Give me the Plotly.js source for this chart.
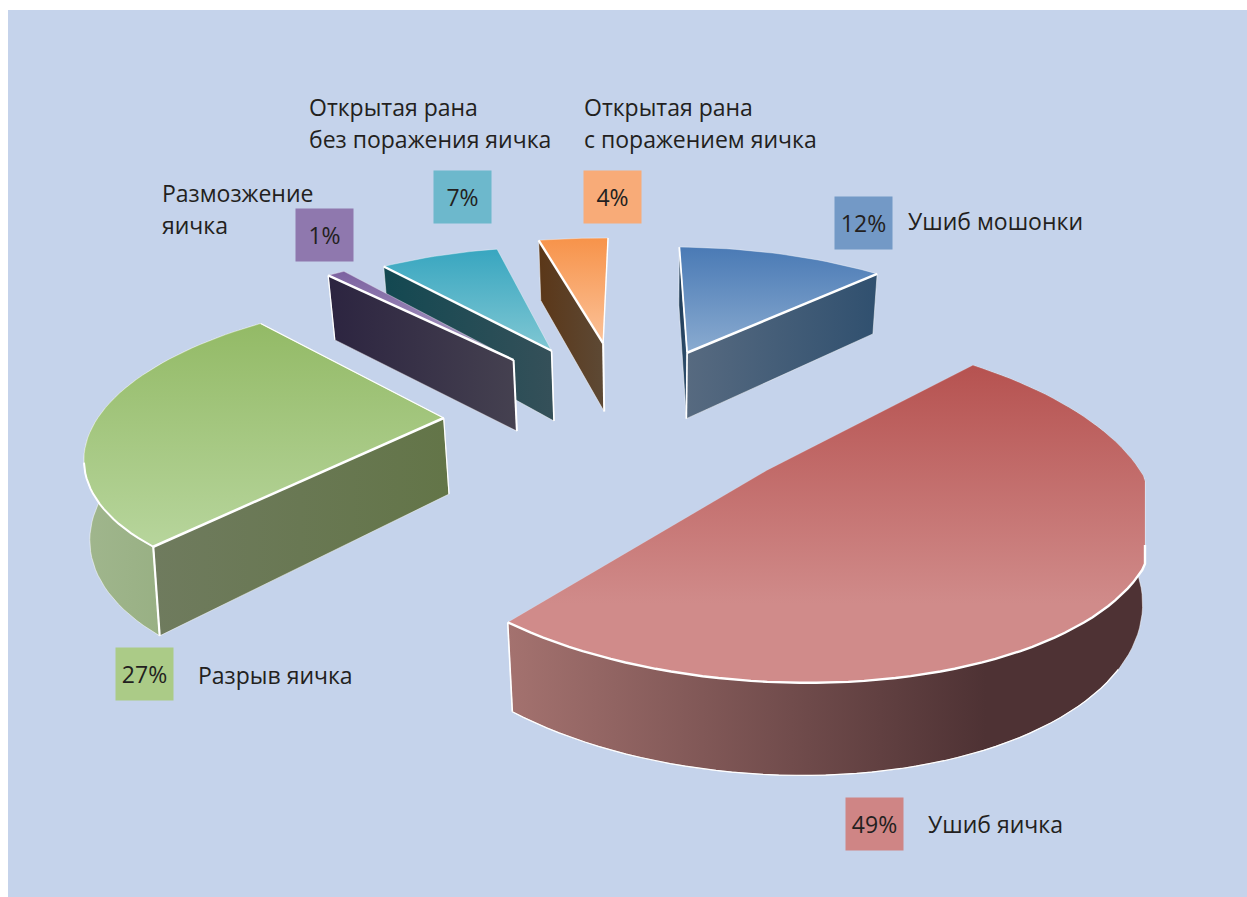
<!DOCTYPE html>
<html><head><meta charset="utf-8">
<script src="https://cdn.plot.ly/plotly-3.0.1.min.js"></script>
</head><body style="margin:0;background:#fff">
<div id="chart" style="width:1247px;height:897px"></div>
<script>
// Shares of testicular and scrotal injuries, clockwise from twelve o'clock
const categories = ['Ушиб мошонки', 'Ушиб яичка', 'Разрыв яичка', 'Размозжение яичка',
  'Открытая рана без поражения яичка', 'Открытая рана с поражением яичка'];
const values = [12, 49, 27, 1, 7, 4];
const pull = [0.52, 0.5034, 0.5251, 0.5501, 0.5503, 0.56];
const radiusScale = [1.015, 1.005, 0.985, 1.03, 1.0, 1.04];
const depthScale = [0.88, 0.95, 0.95, 0.94, 0.94, 0.92];
const lowerRimScale = [1, 1, 1.025, 1, 1, 1];
const shiftX = [-2, 0, 0, 3, 3, -3];

const topColors = [['#4a7ab5', '#8aabd0'], ['#b65250', '#d08b8a'], ['#93ba66', '#b7d59c'],
  ['#7c62a0', '#ada0c6'], ['#38a6c0', '#80c7d3'], ['#f7934a', '#fbc299']];
const topKnee = [1, 0.75, 1, 1, 1, 1];
const topLineAlpha = [0.35, 0.15, 0.35, 0.35, 0.35, 0.35];
const faceColors = [['#1d3a56', '#30506f'], ['#a4726f', '#4e3234'], ['#6f7b5e', '#637548'],
  ['#2c2440', '#454150'], ['#134851', '#355059'], ['#5b3718', '#5d4935']];
const frontFaceColors = [['#576a80', '#30506f'], null, null, null, null, null];
const wallColors = [null, ['#a4726f', '#4e3234'], ['#a0b68d', '#8ea877'], null, null, null];
const wallKnee = [1, 0.75, 1, 1, 1, 1];
const boxColors = ['#7399c6', '#cf8585', '#abcb87', '#8f78ae', '#6db8cc', '#f8ab78'];
const boxCentres = [[863.75, 223.25], [874.75, 824.25], [144.75, 674.25], [324.75, 235.25], [462.75, 197.25], [612.75, 197.25]];
const labelLines = [
  [['Ушиб мошонки', 907, 221]],
  [['Ушиб яичка', 927, 824]],
  [['Разрыв яичка', 197, 675]],
  [['Размозжение', 161, 193], ['яичка', 161, 225]],
  [['Открытая рана', 308, 107], ['без поражения яичка', 308, 139]],
  [['Открытая рана', 583, 107], ['с поражением яичка', 583, 139]]
];

// Perspective camera for the tilted disc: top rim at z = 0, lower rim at z = 1
const cam = {cx: 627.18, cy: 417.0, ax: 348.45, by: 146.54, cxy: 2.08, dyx: -2.8,
  wx: -0.0005, wy: 0.193, ez: -82, fz: 0.7354, wz: 0.027};
const clipRight = 1145;

const rad = d => d * Math.PI / 180;
const starts = [], ends = [];
values.reduce((acc, v) => { starts.push(acc); ends.push(acc + v * 3.6); return acc + v * 3.6; }, 0);

function project(i, deg, r, z0) {
  const mid = rad((starts[i] + ends[i]) / 2), z = z0 * depthScale[i];
  const rr = r * radiusScale[i] * (z0 ? lowerRimScale[i] : 1);
  const X = rr * Math.sin(rad(deg)) + pull[i] * Math.sin(mid);
  const Y = rr * Math.cos(rad(deg)) + pull[i] * Math.cos(mid);
  const w = 1 + cam.wx * X + cam.wy * Y + cam.wz * z;
  return [Math.min(clipRight, shiftX[i] + cam.cx + (cam.ax * X + cam.cxy * Y + cam.fz * z) / w),
          cam.cy - (cam.dyx * X + cam.by * Y + cam.ez * z) / w];
}
function arc(i, a0, a1, z) {
  const n = Math.max(4, Math.ceil(Math.abs(a1 - a0) / 2)), pts = [];
  for (let k = 0; k <= n; k++) pts.push(project(i, a0 + (a1 - a0) * k / n, 1, z));
  return pts;
}
function polyTrace(pts, colors, orientation, knee, lineAlpha) {
  const closed = pts.concat([pts[0]]);
  const x = closed.map(p => p[0]), y = closed.map(p => p[1]);
  const along = orientation === 'vertical' ? y : x;
  const scale = knee < 1 ? [[0, colors[0]], [knee, colors[1]], [1, colors[1]]] : [[0, colors[0]], [1, colors[1]]];
  return {type: 'scatter', mode: 'lines', x, y, fill: 'toself', hoverinfo: 'skip', showlegend: false,
    line: {color: 'rgba(255,255,255,' + lineAlpha + ')', width: 1},
    fillgradient: {type: orientation, start: Math.min(...along), stop: Math.max(...along), colorscale: scale}};
}
function stroke(pts, width) {
  return {type: 'scatter', mode: 'lines', x: pts.map(p => p[0]), y: pts.map(p => p[1]),
    hoverinfo: 'skip', showlegend: false, line: {color: '#ffffff', width}};
}
const apexEdge = (i, deg) => [project(i, 0, 0, 0), project(i, deg, 1, 0)];
const apexPost = i => [project(i, 0, 0, 0), project(i, 0, 0, 1)];
const rimPost = (i, deg) => [project(i, deg, 1, 0), project(i, deg, 1, 1)];

// Bright bevels along the edges that face the viewer
const bevels = [
  i => [stroke(apexEdge(i, ends[i]), 2.6), stroke(apexEdge(i, starts[i]), 1.8), stroke(apexPost(i), 1.6)],
  i => [stroke(arc(i, 113, ends[i], 0), 2.4), stroke(rimPost(i, ends[i]), 1.6), stroke(arc(i, 125, ends[i], 1), 1.2)],
  i => [stroke(apexEdge(i, starts[i]), 2.6), stroke(rimPost(i, starts[i]), 2.2), stroke(arc(i, starts[i], 252, 0), 2),
        stroke(apexEdge(i, ends[i]), 1.2), stroke(apexPost(i), 1.2)],
  i => [stroke(apexEdge(i, starts[i]), 2.4), stroke(apexPost(i), 2), stroke(rimPost(i, starts[i]), 1.2)],
  i => [stroke(apexEdge(i, starts[i]), 2.4), stroke(apexPost(i), 1.6)],
  i => [stroke(apexEdge(i, starts[i]), 2.4), stroke(apexPost(i), 2), stroke(apexEdge(i, ends[i]), 1.4)]
];

// Which radial faces of each slice turn towards the viewer, back one first
const radialFaces = [
  i => [starts[i], ends[i]],
  i => [],
  i => [starts[i]],
  i => [starts[i]],
  i => [starts[i]],
  i => [starts[i]]
];

function sliceTraces(i) {
  const walls = wallColors[i]
    ? [polyTrace(arc(i, starts[i], ends[i], 0).concat(arc(i, ends[i], starts[i], 1)), wallColors[i], 'horizontal', wallKnee[i], 0.5)]
    : [];
  const faces = radialFaces[i](i).map((deg, order, list) => {
    const colors = order === list.length - 1 && frontFaceColors[i] ? frontFaceColors[i] : faceColors[i];
    return polyTrace([project(i, 0, 0, 0), project(i, deg, 1, 0), project(i, deg, 1, 1), project(i, 0, 0, 1)], colors, 'horizontal', 1, 0.5);
  });
  const top = polyTrace([project(i, 0, 0, 0)].concat(arc(i, starts[i], ends[i], 0)), topColors[i], 'vertical', topKnee[i], topLineAlpha[i]);
  return walls.concat(faces, [top], bevels[i](i));
}

const paintOrder = [0, 5, 4, 3, 2, 1];
const traces = paintOrder.flatMap(sliceTraces);

const textFont = {family: '"Open Sans", sans-serif', size: 23, color: '#231f20'};
const annotations = [];
values.forEach((v, i) => {
  annotations.push({x: boxCentres[i][0], y: boxCentres[i][1], text: v + '%', showarrow: false,
    width: 57, height: 52, bgcolor: boxColors[i], borderpad: 0, align: 'center', valign: 'middle',
    xanchor: 'center', yanchor: 'middle', font: textFont});
  labelLines[i].forEach(l => annotations.push({x: l[1], y: l[2], text: l[0], showarrow: false,
    xanchor: 'left', yanchor: 'middle', align: 'left', borderpad: 0, font: textFont}));
});

const hidden = {visible: false, fixedrange: true};
Plotly.newPlot('chart', traces, {
  width: 1247, height: 897, margin: {l: 0, r: 0, t: 0, b: 0, pad: 0},
  paper_bgcolor: '#ffffff', plot_bgcolor: 'rgba(0,0,0,0)', showlegend: false,
  xaxis: Object.assign({range: [0, 1247]}, hidden),
  yaxis: Object.assign({range: [897, 0]}, hidden),
  shapes: [{type: 'rect', layer: 'below', x0: 8, x1: 1247, y0: 10, y1: 897, fillcolor: '#c5d3eb', line: {width: 0}}],
  annotations
}, {staticPlot: true, displayModeBar: false});
</script>
</body></html>
